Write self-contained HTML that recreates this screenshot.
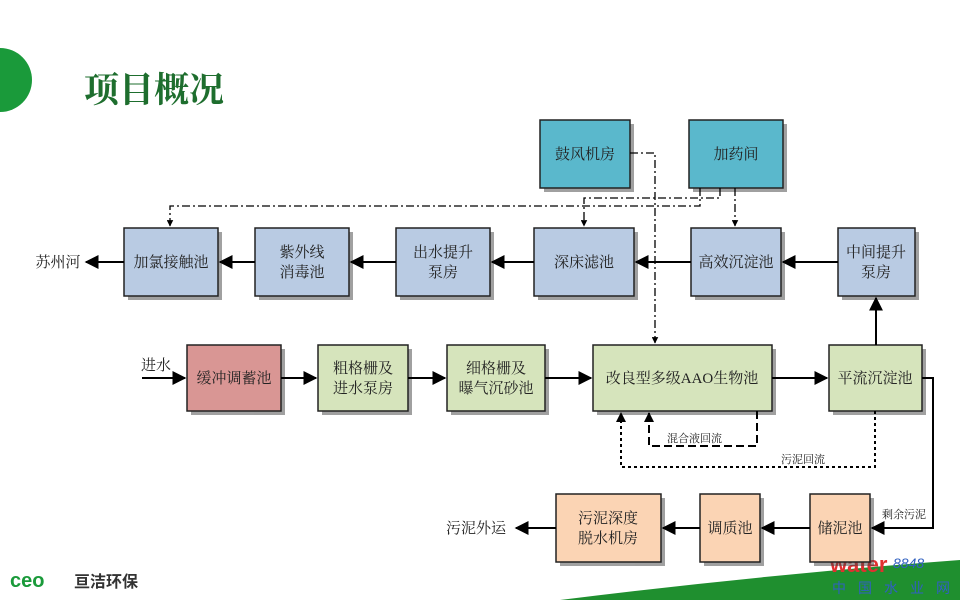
<!DOCTYPE html>
<html><head><meta charset="utf-8"><style>
body{margin:0;width:960px;height:600px;overflow:hidden;background:#fff;font-family:"Liberation Serif","Noto Serif CJK SC",serif;}
</style></head><body>
<svg width="960" height="600" viewBox="0 0 960 600" xmlns="http://www.w3.org/2000/svg" font-family="'Liberation Serif','Noto Serif CJK SC',serif">
<defs>
<marker id="a" viewBox="0 0 10 10" refX="9" refY="5" markerWidth="7" markerHeight="7" orient="auto"><path d="M0,0L10,5L0,10z" fill="#000"/></marker>
<marker id="s" viewBox="0 0 10 10" refX="9" refY="5" markerWidth="5" markerHeight="5" orient="auto"><path d="M0,0L10,5L0,10z" fill="#000"/></marker>
</defs>
<circle cx="0" cy="80" r="32" fill="#1a9a3a"/>
<text x="84" y="102" font-size="35" fill="#1e6e2e" font-weight="bold">项目概况</text>
<path d="M560,600 Q760,575 960,560 L960,600z" fill="#1f8f2f"/>
<text x="830" y="572" font-size="22" font-weight="bold" fill="#e03030" font-family="'Liberation Sans',sans-serif">water</text>
<text x="893" y="568" font-size="14" font-style="italic" fill="#3060c0" font-family="'Liberation Sans',sans-serif">8848</text>
<text x="832" y="593" font-size="14" fill="#3060c0" font-family="'Liberation Sans','Noto Sans CJK SC',sans-serif" letter-spacing="12">中国水业网</text>
<text x="10" y="587" font-size="20" font-weight="bold" fill="#1a9a3a" font-family="'Liberation Sans',sans-serif">ceo</text>
<text x="74" y="587" font-size="16" font-weight="bold" fill="#333" font-family="'Liberation Sans','Noto Sans CJK SC',sans-serif">亘洁环保</text>
<g stroke="#222" stroke-width="1.5">
<g fill="#444" stroke="none" opacity=".5">
<rect x="544" y="124" width="90" height="68"/><rect x="693" y="124" width="94" height="68"/>
<rect x="128" y="232" width="94" height="68"/><rect x="259" y="232" width="94" height="68"/><rect x="400" y="232" width="94" height="68"/><rect x="538" y="232" width="100" height="68"/><rect x="695" y="232" width="90" height="68"/><rect x="842" y="232" width="77" height="68"/>
<rect x="191" y="349" width="94" height="66"/><rect x="322" y="349" width="90" height="66"/><rect x="451" y="349" width="98" height="66"/><rect x="597" y="349" width="179" height="66"/><rect x="833" y="349" width="93" height="66"/>
<rect x="560" y="498" width="105" height="68"/><rect x="704" y="498" width="60" height="68"/><rect x="814" y="498" width="60" height="68"/>
</g>
<rect x="540" y="120" width="90" height="68" fill="#5ab8cc"/><rect x="689" y="120" width="94" height="68" fill="#5ab8cc"/>
<g fill="#b9cbe3">
<rect x="124" y="228" width="94" height="68"/><rect x="255" y="228" width="94" height="68"/><rect x="396" y="228" width="94" height="68"/><rect x="534" y="228" width="100" height="68"/><rect x="691" y="228" width="90" height="68"/><rect x="838" y="228" width="77" height="68"/>
</g>
<rect x="187" y="345" width="94" height="66" fill="#d99694"/>
<g fill="#d6e4bc">
<rect x="318" y="345" width="90" height="66"/><rect x="447" y="345" width="98" height="66"/><rect x="593" y="345" width="179" height="66"/><rect x="829" y="345" width="93" height="66"/>
</g>
<g fill="#fbd4b4">
<rect x="556" y="494" width="105" height="68"/><rect x="700" y="494" width="60" height="68"/><rect x="810" y="494" width="60" height="68"/>
</g>
</g>
<g font-size="15" fill="#222" text-anchor="middle">
<text x="585" y="159">鼓风机房</text><text x="736" y="159">加药间</text>
<text x="171" y="267">加氯接触池</text><text x="302" y="257">紫外线</text><text x="302" y="277">消毒池</text>
<text x="443" y="257">出水提升</text><text x="443" y="277">泵房</text><text x="584" y="267">深床滤池</text><text x="736" y="267">高效沉淀池</text>
<text x="876" y="257">中间提升</text><text x="876" y="277">泵房</text>
<text x="234" y="383">缓冲调蓄池</text><text x="363" y="373">粗格栅及</text><text x="363" y="393">进水泵房</text>
<text x="496" y="373">细格栅及</text><text x="496" y="393">曝气沉砂池</text><text x="682" y="383">改良型多级AAO生物池</text><text x="875" y="383">平流沉淀池</text>
<text x="608" y="523">污泥深度</text><text x="608" y="543">脱水机房</text><text x="730" y="533">调质池</text><text x="840" y="533">储泥池</text>
<text x="58" y="267">苏州河</text><text x="476" y="533">污泥外运</text><text x="156" y="370">进水</text>
</g>
<g font-size="11" fill="#222"><text x="667" y="442">混合液回流</text><text x="781" y="463">污泥回流</text><text x="882" y="518">剩余污泥</text></g>
<g stroke="#000" stroke-width="2" fill="none" marker-end="url(#a)">
<path d="M838,262H783"/><path d="M691,262H636"/><path d="M534,262H492"/><path d="M396,262H351"/><path d="M255,262H220"/><path d="M124,262H86"/>
<path d="M142,378H185"/><path d="M281,378H316"/><path d="M408,378H445"/><path d="M545,378H591"/><path d="M772,378H827"/>
<path d="M876,345V298"/>
<path d="M922,378H933V528H872"/><path d="M810,528H762"/><path d="M700,528H663"/><path d="M556,528H516"/>
</g>
<g stroke="#000" stroke-width="1.3" fill="none" stroke-dasharray="8,3,2,3">
<path d="M630,153H655V343" marker-end="url(#s)"/>
<path d="M735,188V226" marker-end="url(#s)"/>
<path d="M720,188V198H584V226" marker-end="url(#s)"/>
<path d="M700,188V206H170V226" marker-end="url(#s)"/>
</g>
<path d="M757,411V446H649V413" stroke="#000" stroke-width="2" fill="none" stroke-dasharray="8,4" marker-end="url(#s)"/>
<path d="M875,411V467H621V413" stroke="#000" stroke-width="2" fill="none" stroke-dasharray="3,3" marker-end="url(#s)"/>
</svg>
</body></html>
